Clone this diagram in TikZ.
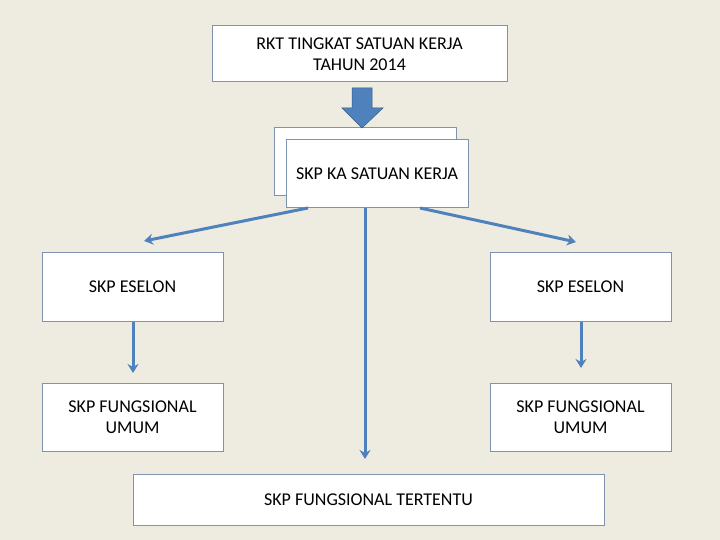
\documentclass[tikz,border=0pt]{standalone}
\usepackage{fontspec}
\setmainfont{Carlito}
\usetikzlibrary{arrows.meta}
\definecolor{bgcream}{HTML}{EEECE1}
\definecolor{linkblue}{HTML}{4F81BD}
\definecolor{boxedge}{HTML}{7F93AE}
\tikzset{
  skpbox/.style={rectangle, draw=boxedge, fill=white, line width=1pt, align=center, font=\fontsize{18}{21}\selectfont, inner sep=0pt},
  link/.style={draw=linkblue, line width=3pt, -{Stealth[length=9pt,width=11pt]}}
}
\begin{document}
\begin{tikzpicture}[x=1pt, y=-1pt]
        \fill[bgcream] (0,0) rectangle (720,540);
        \useasboundingbox (0,0) rectangle (720,540);
        \node (rkt) [skpbox, minimum width=295pt, minimum height=56pt] at (359.5,54) {RKT TINGKAT SATUAN KERJA\\TAHUN 2014};
        \node (kaback) [skpbox, minimum width=182pt, minimum height=68pt] at (365,162) {};
        \node (ka) [skpbox, minimum width=182pt, minimum height=68pt] at (377,174) {SKP KA SATUAN KERJA};
        \node (esl) [skpbox, minimum width=181pt, minimum height=69pt] at (132.5,286.5) {SKP ESELON};
        \node (esr) [skpbox, minimum width=181pt, minimum height=69pt] at (580.5,286.5) {SKP ESELON};
        \node (ful) [skpbox, minimum width=181pt, minimum height=68pt] at (132.5,417) {SKP FUNGSIONAL\\UMUM};
        \node (fur) [skpbox, minimum width=181pt, minimum height=68pt] at (580.5,417) {SKP FUNGSIONAL\\UMUM};
        \node (ft) [skpbox, minimum width=471pt, minimum height=51pt] at (368.5,499.5) {SKP FUNGSIONAL TERTENTU};

        % big block arrow
        \fill[linkblue, draw=linkblue!70!black, line width=0.5pt] (352,88) -- (372,88) -- (372,108) -- (383,108) -- (362,128) -- (342,108) -- (352,108) -- cycle;

        \coordinate (kal) at (308,208);
        \coordinate (kar) at (420,208);
        \coordinate (kam) at (365,208);
        \draw[link] (kal) -- (144,241);
        \draw[link] (kar) -- (576,242);
        \draw[link] (kam) -- (365,459);
        \draw[link] (esl.south -| 133,0) -- (133,373);
        \draw[link] (esr.south -| 581,0) -- (581,368);
\end{tikzpicture}
\end{document}
